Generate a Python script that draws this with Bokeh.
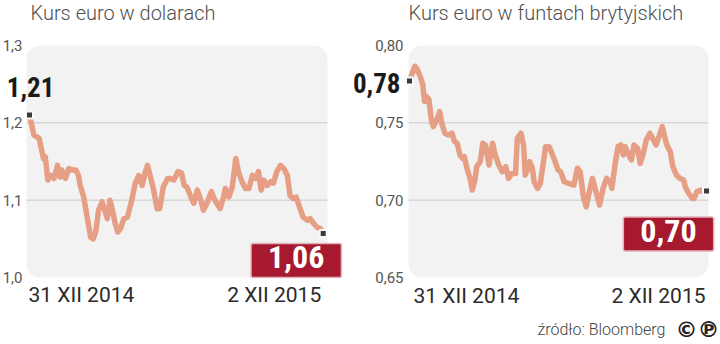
from bokeh.plotting import figure
from bokeh.models import Label, BoxAnnotation, Range1d
from bokeh.embed import file_html
from bokeh.resources import INLINE

# ---- data (days since 31 XII 2014) ----
usd_days = [0, 3, 5, 11, 13, 16, 18, 21, 24, 28, 32, 35, 37, 41, 45, 49, 53, 56, 58, 62,
            66, 70, 73, 76, 79, 83, 86, 89, 92, 95, 98, 101, 104, 108, 112, 117, 121, 125,
            129, 132, 135, 138, 142, 146, 149, 153, 158, 161, 165, 170, 174, 177, 180, 184,
            188, 192, 196, 199, 203, 208, 212, 218, 222, 224, 228, 232, 236, 239, 243, 247,
            251, 255, 259, 262, 265, 268, 272, 276, 279, 283, 287, 291, 295, 298, 302, 305,
            309, 313, 318, 321, 325, 329, 333, 336]
usd_vals = [1.210, 1.195, 1.184, 1.180, 1.169, 1.154, 1.156, 1.126, 1.132, 1.128, 1.145,
            1.130, 1.139, 1.128, 1.141, 1.139, 1.139, 1.132, 1.119, 1.104, 1.078, 1.052,
            1.050, 1.061, 1.087, 1.098, 1.087, 1.076, 1.100, 1.087, 1.070, 1.059, 1.063,
            1.076, 1.078, 1.100, 1.122, 1.132, 1.119, 1.135, 1.145, 1.132, 1.113, 1.089,
            1.089, 1.117, 1.128, 1.128, 1.126, 1.137, 1.135, 1.119, 1.117, 1.106, 1.096,
            1.113, 1.100, 1.087, 1.096, 1.111, 1.100, 1.089, 1.104, 1.115, 1.104, 1.117,
            1.154, 1.137, 1.124, 1.115, 1.115, 1.132, 1.128, 1.137, 1.113, 1.126, 1.119,
            1.124, 1.122, 1.137, 1.145, 1.141, 1.132, 1.106, 1.102, 1.104, 1.091, 1.078,
            1.074, 1.076, 1.070, 1.065, 1.063, 1.057]

gbp_days = [0, 6, 9, 12, 15, 17, 19, 22, 25, 27, 31, 34, 37, 40, 44, 48, 51, 54, 57, 60,
            62, 65, 69, 71, 74, 76, 80, 83, 86, 90, 94, 97, 101, 105, 109, 112, 116, 120,
            122, 126, 129, 131, 134, 136, 139, 141, 145, 148, 151, 154, 158, 160, 164, 168,
            171, 175, 180, 186, 190, 193, 197, 200, 203, 207, 210, 215, 219, 223, 227, 229,
            233, 236, 239, 242, 244, 248, 251, 254, 258, 261, 264, 268, 272, 276, 279, 283,
            286, 290, 292, 295, 298, 302, 306, 310, 312, 316, 320, 322, 325, 329, 332, 336]
gbp_vals = [0.777, 0.7866, 0.7844, 0.780, 0.7747, 0.7638, 0.767, 0.765, 0.7508, 0.7476,
            0.752, 0.7573, 0.7487, 0.7433, 0.7422, 0.7433, 0.7379, 0.7368, 0.7292, 0.727,
            0.7281, 0.7206, 0.713, 0.7065, 0.713, 0.7216, 0.7249, 0.7368, 0.7357, 0.7227,
            0.7368, 0.7292, 0.7227, 0.7184, 0.7216, 0.7141, 0.7173, 0.7173, 0.740, 0.7433,
            0.7357, 0.7162, 0.7206, 0.7249, 0.7206, 0.7119, 0.7076, 0.7108, 0.7227, 0.7346,
            0.7346, 0.732, 0.726, 0.7195, 0.7184, 0.7119, 0.7108, 0.7097, 0.7206, 0.7184,
            0.7011, 0.6957, 0.7043, 0.7141, 0.7076, 0.6968, 0.7076, 0.7141, 0.7119, 0.7076,
            0.7249, 0.7346, 0.7357, 0.7292, 0.7346, 0.7292, 0.726, 0.7357, 0.7336, 0.7238,
            0.7292, 0.739, 0.7433, 0.739, 0.7357, 0.7422, 0.7476, 0.7379, 0.7346, 0.7314,
            0.7216, 0.7162, 0.7141, 0.713, 0.7087, 0.7043, 0.7011, 0.7011, 0.7054, 0.7065,
            0.7054, 0.706]

usd_ticks = [1.0, 1.1, 1.2, 1.3]
usd_tick_labels = ["1,0", "1,1", "1,2", "1,3"]
gbp_ticks = [0.65, 0.70, 0.75, 0.80]
gbp_tick_labels = ["0,65", "0,70", "0,75", "0,80"]
usd_start_label, usd_end_label = "1,21", "1,06"
gbp_start_label, gbp_end_label = "0,78", "0,70"
date_start, date_end = "31 XII 2014", "2 XII 2015"
title_usd = "Kurs euro w dolarach"
title_gbp = "Kurs euro w funtach brytyjskich"
source_text = "źródło: Bloomberg"

LINE = "#e69f84"
PANEL = "#f2f2f2"
RED = "#a6192e"
LIGHT = "Roboto Light, Roboto, sans-serif"
REG = "Roboto, sans-serif"
BOLD = "Liberation Sans Narrow, Roboto Condensed, Roboto, sans-serif"

# scales of both panels (single canvas, two coordinate systems)
p = figure(width=720, height=344, x_range=Range1d(-33.18, 790.5),
           y_range=Range1d(0.91336, 1.35819), output_backend="svg", toolbar_location=None,
           x_axis_location=None, y_axis_location=None, min_border=0)
p.extra_x_ranges = {"gbp": Range1d(-462.7, 351.84)}
p.extra_y_ranges = {"gbp": Range1d(0.60668, 0.82910)}
p.background_fill_color = "white"
p.border_fill_color = "white"
p.outline_line_color = None
p.grid.visible = False


def panel(rn, days, vals, ticks, tick_labels, box_x, tick_off,
          start_lab, start_off, start_align, end_lab, end_off, title_text, title_off,
          date_offs):
    kw = dict(x_range_name=rn, y_range_name=rn)
    y0, y1 = ticks[0], ticks[-1]
    p.add_layout(BoxAnnotation(left=box_x[0], right=box_x[1], bottom=y0, top=y1,
                               fill_color=PANEL, fill_alpha=1, line_color=None,
                               border_radius=14, level="underlay", **kw))
    p.segment(x0=[box_x[0]] * 2, x1=[box_x[1]] * 2, y0=ticks[1:3], y1=ticks[1:3],
              line_color="#c9c9c9", line_width=1, **kw)
    for t, lab in zip(ticks, tick_labels):
        p.add_layout(Label(x=box_x[0], y=t, text=lab, x_offset=tick_off, text_align="right",
                           text_baseline="middle", text_font=REG, text_font_size="15px",
                           text_color="#555555", **kw))
    p.line(days, vals, line_width=5.5, line_color=LINE, line_join="round", line_cap="round",
           **kw)
    p.scatter([days[0], days[-1]], [vals[0], vals[-1]], marker="square", size=7,
              fill_color="#3a3a3a", line_color="#f8f8f8", line_width=2, **kw)
    p.add_layout(Label(x=days[0], y=vals[0], text=start_lab, x_offset=start_off[0],
                       y_offset=start_off[1], text_align=start_align, text_baseline="middle",
                       text_font=BOLD, text_font_style="bold", text_font_size="27px",
                       text_color="#1a1a1a", **kw))
    p.add_layout(Label(x=days[-1], y=vals[-1], text=end_lab, x_offset=end_off[0],
                       y_offset=end_off[1], text_align="center", text_baseline="middle",
                       text_font=BOLD, text_font_style="bold", text_font_size="32px",
                       text_color="white", background_fill_color=RED,
                       border_line_color="#e2b3ba", border_line_width=1.5,
                       padding=dict(left=17, right=17, top=3, bottom=9), border_radius=2,
                       **kw))
    p.add_layout(Label(x=days[0], y=y0, text=date_start, x_offset=date_offs[0],
                       y_offset=-18, text_align="left", text_baseline="middle",
                       text_font=REG, text_font_size="21px", text_color="#2b2b2b", **kw))
    p.add_layout(Label(x=days[-1], y=y0, text=date_end, x_offset=date_offs[1],
                       y_offset=-18, text_align="right", text_baseline="middle",
                       text_font=REG, text_font_size="21px", text_color="#2b2b2b", **kw))
    p.add_layout(Label(x=box_x[0], y=y1, text=title_text, x_offset=title_off,
                       y_offset=33, text_align="left", text_baseline="middle",
                       text_font=LIGHT, text_font_size="20px", text_color="#505050", **kw))


panel("default", usd_days, usd_vals, usd_ticks, usd_tick_labels, (-3.43, 340.9), -4,
      usd_start_label, (1, 28), "center", usd_end_label, (-27, -27), title_usd, 4, (-1, -2))
panel("gbp", gbp_days, gbp_vals, gbp_ticks, gbp_tick_labels, (-1.13, 338.3), -5,
      gbp_start_label, (-9, -2), "right", gbp_end_label, (-38, -43), title_gbp, 0, (4, -1))

p.add_layout(Label(x=gbp_days[-1], y=gbp_ticks[0], text=source_text, x_offset=-41,
                   y_offset=-52, text_align="right", text_baseline="middle", text_font=LIGHT,
                   text_font_size="16px", text_color="#444444",
                   x_range_name="gbp", y_range_name="gbp"))
p.add_layout(Label(x=gbp_days[-1], y=gbp_ticks[0], text="\u00a9\u2117", x_offset=-9,
                   y_offset=-52, text_align="center", text_baseline="middle",
                   text_font="DejaVu Sans", text_font_style="bold", text_font_size="22px",
                   text_color="#222222", x_range_name="gbp", y_range_name="gbp"))

open("out.html", "w").write(file_html(p, INLINE))
